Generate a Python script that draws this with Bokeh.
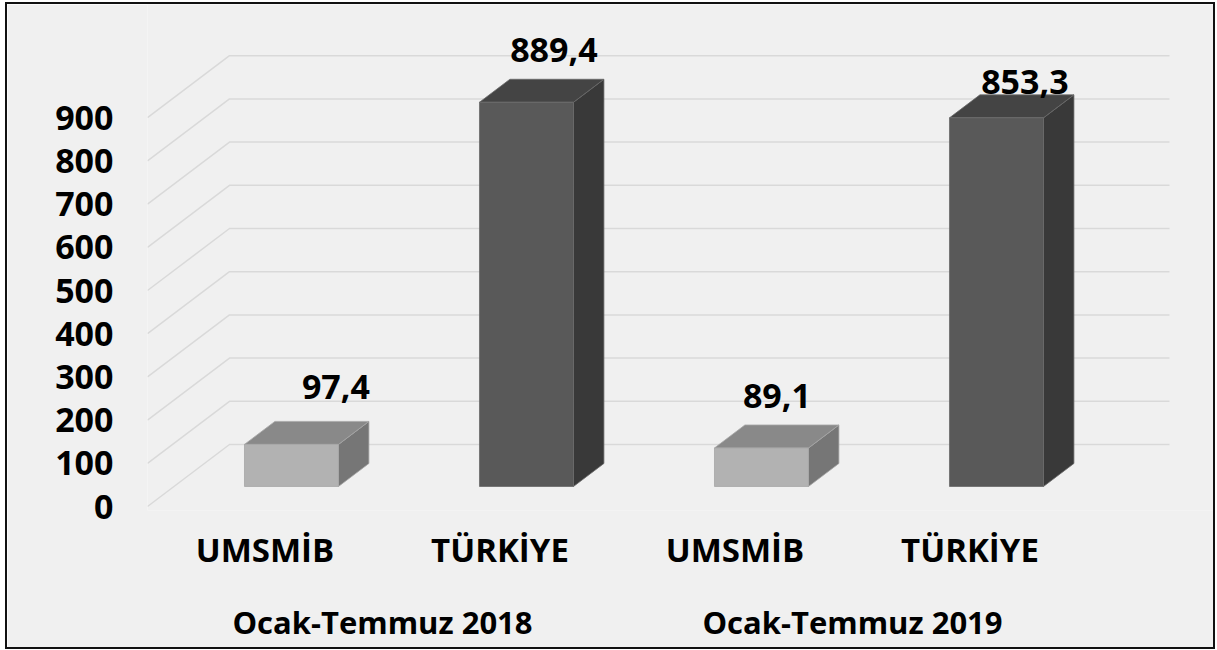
from bokeh.plotting import figure
from bokeh.models import Range1d, LinearAxis, FixedTicker
from bokeh.embed import file_html
from bokeh.resources import INLINE
from bokeh.core.properties import value

# ---------------- data ----------------
periods = ["Ocak-Temmuz 2018", "Ocak-Temmuz 2019"]
regions = ["UMSMİB", "TÜRKİYE"]
exports_2018 = [97.4, 889.4]
exports_2019 = [89.1, 853.3]
y_ticks = [0, 100, 200, 300, 400, 500, 600, 700, 800, 900]

# label nudges (px) in the order of the bars
label_dx = [14, -3, -15, -2]
label_dy = [-34, -29, -29, -13]

# ---------------- style ----------------
FONT = "Open Sans"
BG = "#F0F0F0"
GRID = "#D9D9D9"
front_colors = {"UMSMİB": "#B2B2B2", "TÜRKİYE": "#595959"}
top_colors = {"UMSMİB": "#898989", "TÜRKİYE": "#444444"}
side_colors = {"UMSMİB": "#767676", "TÜRKİYE": "#393939"}
edge_colors = {"UMSMİB": "#A6A6A6", "TÜRKİYE": "#6A6A6A"}

CAT_PX = 235.0      # px per category on the front plane
VAL_PX = 0.432      # px per value unit
DEPTH_DX_PX, DEPTH_DY_PX = 82.0, 62.0
FRAME_W, FRAME_H = 1066, 506
ZERO_FROM_TOP = 502

DX = DEPTH_DX_PX / CAT_PX
DY = DEPTH_DY_PX / VAL_PX
BAR_W = 0.4
D_FRONT, D_BACK = 0.323, 0.694

values = exports_2018 + exports_2019
cat_labels = regions * len(periods)
n = len(values)
centers = [i + 0.5 for i in range(n)]
group_centers = [len(regions) * (g + 0.5) for g in range(len(periods))]

p = figure(frame_width=FRAME_W, frame_height=FRAME_H,
           min_border_left=140, min_border_right=0, min_border_top=0, min_border_bottom=137,
           x_range=Range1d(0, FRAME_W / CAT_PX),
           y_range=Range1d(-(FRAME_H - ZERO_FROM_TOP) / VAL_PX, ZERO_FROM_TOP / VAL_PX),
           output_backend="svg", toolbar_location=None,
           background_fill_color=BG, border_fill_color=BG)
p.outline_line_color = None
p.xgrid.visible = False
p.ygrid.visible = False
p.styles = {"margin-left": "7px", "margin-top": "4px", "outline": "2px solid #111111"}

# 3D gridlines (side wall + back wall)
gx, gy = [], []
for t in y_ticks:
    gx.append([0, DX, n + DX])
    gy.append([t, t + DY, t + DY])
p.multi_line(gx, gy, line_color=GRID, line_width=1.5)

# bars
w = BAR_W / 2
fx0 = [c - w + D_FRONT * DX for c in centers]
fx1 = [c + w + D_FRONT * DX for c in centers]
fb = [D_FRONT * DY] * n
ft = [v + D_FRONT * DY for v in values]

side_xs, side_ys, top_xs, top_ys = [], [], [], []
for c, v in zip(centers, values):
    side_xs.append([c + w + D_FRONT * DX, c + w + D_BACK * DX, c + w + D_BACK * DX, c + w + D_FRONT * DX])
    side_ys.append([D_FRONT * DY, D_BACK * DY, v + D_BACK * DY, v + D_FRONT * DY])
    top_xs.append([c - w + D_FRONT * DX, c + w + D_FRONT * DX, c + w + D_BACK * DX, c - w + D_BACK * DX])
    top_ys.append([v + D_FRONT * DY, v + D_FRONT * DY, v + D_BACK * DY, v + D_BACK * DY])

p.patches(side_xs, side_ys, fill_color=[side_colors[c] for c in cat_labels],
          line_color=[edge_colors[c] for c in cat_labels], line_width=0.8)
p.patches(top_xs, top_ys, fill_color=[top_colors[c] for c in cat_labels],
          line_color=[edge_colors[c] for c in cat_labels], line_width=0.8)
p.quad(left=fx0, right=fx1, bottom=fb, top=ft,
       fill_color=[front_colors[c] for c in cat_labels],
       line_color=[edge_colors[c] for c in cat_labels], line_width=0.8)

# value labels
p.text(x=[c + D_BACK * DX for c in centers], y=[v + D_BACK * DY for v in values],
       text=[f"{v:.1f}".replace(".", ",") for v in values],
       x_offset=label_dx, y_offset=label_dy,
       text_align="center", text_baseline="alphabetic",
       text_font=value(FONT), text_font_style="bold", text_font_size="34px",
       text_color="#000000")

# y axis
ya = p.yaxis[0]
ya.ticker = FixedTicker(ticks=y_ticks)
ya.major_label_text_font = FONT
ya.major_label_text_font_style = "bold"
ya.major_label_text_font_size = "34px"
ya.major_label_text_color = "#000000"
ya.axis_line_color = None
ya.major_tick_line_color = None
ya.minor_tick_line_color = None
ya.major_tick_out = 0
ya.major_tick_in = 0
ya.major_label_standoff = 34

# category axis + period axis
xa = p.xaxis[0]
xa.ticker = FixedTicker(ticks=centers)
xa.major_label_overrides = {c: lab for c, lab in zip(centers, cat_labels)}

ga = LinearAxis(ticker=FixedTicker(ticks=group_centers),
                major_label_overrides={g: lab for g, lab in zip(group_centers, periods)})

for ax, standoff, size in [(xa, 16, "33px"), (ga, 26, "31px")]:
    ax.axis_label = None
    ax.major_label_text_font = FONT
    ax.major_label_text_font_style = "bold"
    ax.major_label_text_font_size = size
    ax.major_label_text_color = "#000000"
    ax.axis_line_color = None
    ax.major_tick_line_color = None
    ax.minor_tick_line_color = None
    ax.major_tick_out = 0
    ax.major_tick_in = 0
    ax.major_label_standoff = standoff

p.add_layout(ga, "below")

open("out.html", "w").write(file_html(p, INLINE))
